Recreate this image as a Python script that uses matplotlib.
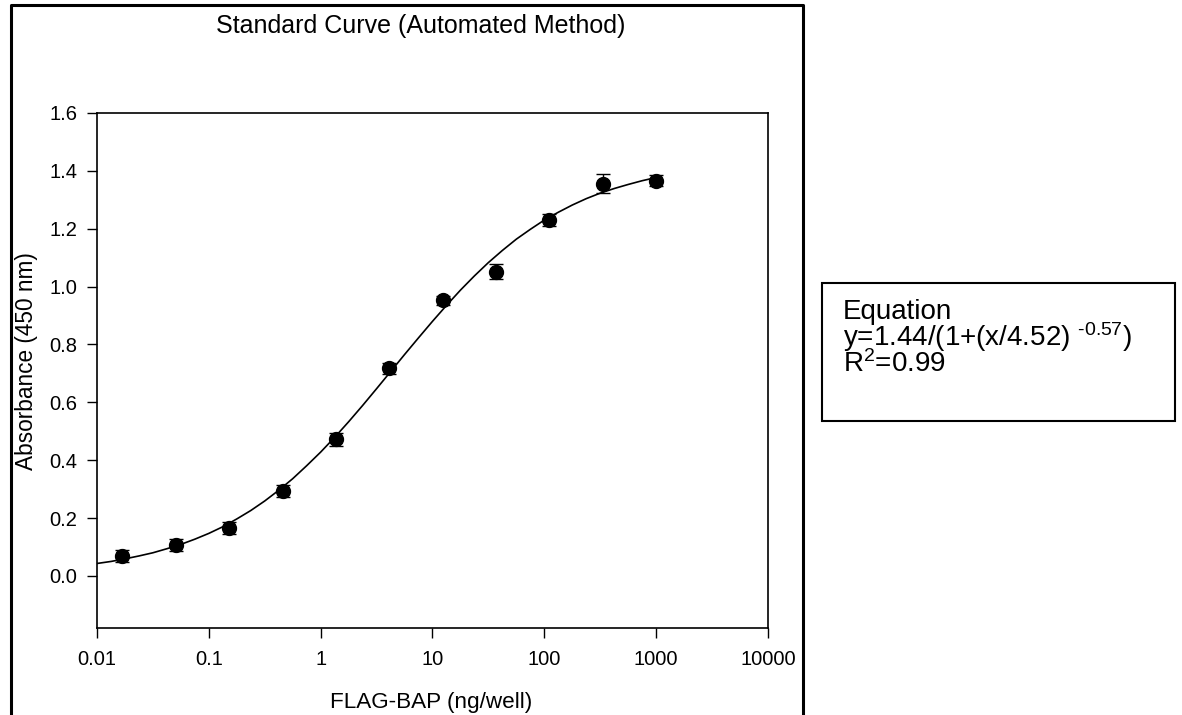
import matplotlib
matplotlib.use("Agg")
import matplotlib.pyplot as plt
from matplotlib.lines import Line2D
from matplotlib.patches import Rectangle

plt.rcParams["font.family"] = ["Liberation Sans", "DejaVu Sans"]
plt.rcParams["mathtext.fontset"] = "custom"
plt.rcParams["mathtext.rm"] = "Liberation Sans"
plt.rcParams["mathtext.it"] = "Liberation Sans:italic"
plt.rcParams["mathtext.bf"] = "Liberation Sans:bold"

# measured standards (3-fold dilution series)
conc = [0.0169, 0.0508, 0.152, 0.457, 1.372, 4.115, 12.35, 37.04, 111.1, 333.3, 1000]
absorb = [0.069, 0.107, 0.166, 0.293, 0.472, 0.717, 0.952, 1.052, 1.231, 1.355, 1.366]
err = [0.02, 0.02, 0.02, 0.02, 0.022, 0.02, 0.015, 0.025, 0.02, 0.033, 0.02]

# fitted curve (eighth-decade steps)
curve_x = [0.01, 0.01334, 0.0178, 0.02371, 0.0316, 0.04217, 0.0562, 0.07499,
           0.1, 0.1334, 0.178, 0.2371, 0.316, 0.4217, 0.562, 0.7499,
           1, 1.334, 1.78, 2.371, 3.16, 4.217, 5.62, 7.499,
           10, 13.34, 17.8, 23.71, 31.6, 42.17, 56.2, 74.99,
           100, 133.4, 178, 237.1, 316, 421.7, 562, 749.9, 1000]
curve_y = [0.043, 0.050, 0.059, 0.069, 0.080, 0.094, 0.109, 0.127,
           0.147, 0.170, 0.197, 0.226, 0.259, 0.296, 0.336, 0.381,
           0.428, 0.479, 0.533, 0.589, 0.647, 0.706, 0.765, 0.823,
           0.880, 0.935, 0.988, 1.037, 1.083, 1.125, 1.164, 1.198,
           1.230, 1.257, 1.282, 1.304, 1.323, 1.339, 1.353, 1.366, 1.377]

xticks = [0.01, 0.1, 1, 10, 100, 1000, 10000]
xtick_labels = ["0.01", "0.1", "1", "10", "100", "1000", "10000"]
yticks = [0.0, 0.2, 0.4, 0.6, 0.8, 1.0, 1.2, 1.4, 1.6]

W, H = 1182, 715
fig = plt.figure(figsize=(W / 100, H / 100), dpi=100)


def fx(px):
    return px / W


def fy(py):
    return 1 - py / H


ax = fig.add_axes([fx(97), fy(628), fx(768) - fx(97), fy(113) - fy(628)])
ax.plot(curve_x, curve_y, color="black", linewidth=1.2)
ax.errorbar(conc, absorb, yerr=err, fmt="o", color="black", ms=10,
            capsize=5, elinewidth=1, capthick=1)

ax.set_xscale("log")
ax.set_xlim(0.01, 10000)
ax.set_ylim(-0.18, 1.6)
ax.set_xticks(xticks)
ax.set_xticklabels(xtick_labels)
ax.xaxis.set_minor_locator(matplotlib.ticker.NullLocator())
ax.set_yticks(yticks)
ax.set_yticklabels(["%.1f" % v for v in yticks])
ax.tick_params(direction="out", length=7, width=1, labelsize=14.5)
ax.tick_params(axis="x", pad=9)
ax.tick_params(axis="y", pad=7)
for s in ax.spines.values():
    s.set_linewidth(1.2)

# axis labels and title
fig.text(fx(421), fy(33), "Standard Curve (Automated Method)", fontsize=18,
         ha="center", va="baseline")
fig.text(fx(431), fy(708), "FLAG-BAP (ng/well)", fontsize=16.2,
         ha="center", va="baseline")
fig.text(fx(27), fy(361), "Absorbance (450 nm)", fontsize=16.3,
         ha="center", va="center", rotation=90)

# equation box
fig.patches.append(Rectangle((fx(822), fy(421)), fx(1175) - fx(822), fy(283) - fy(421),
                             transform=fig.transFigure, fill=False,
                             edgecolor="black", linewidth=1.5))
eq_text = ("Equation\n"
           r"y=1.44/(1+(x/4.52) $^{\text{-0.57}}$)" "\n"
           r"R$^{\text{2}}$=0.99")
fig.text(fx(843), fy(299), eq_text, fontsize=20, va="top", ha="left",
         linespacing=0.82)

# outer frame (left, top, right)
frame_x = [fx(11), fx(11), fx(803), fx(803)]
frame_y = [0, fy(5), fy(5), 0]
fig.lines.append(Line2D(frame_x, frame_y, transform=fig.transFigure,
                        color="black", linewidth=2.2))

fig.savefig("out.png", dpi=100)
